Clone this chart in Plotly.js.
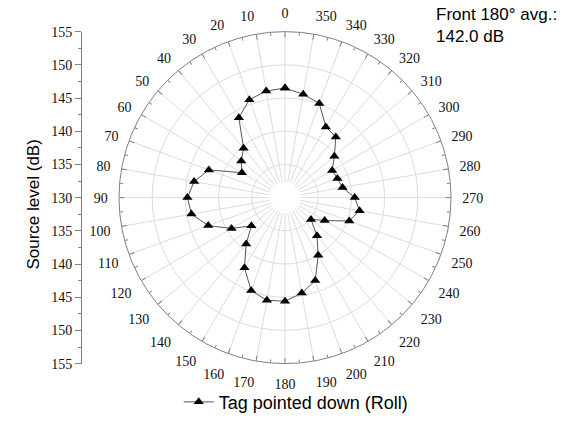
<!DOCTYPE html>
<html>
<head>
<meta charset="utf-8">
<script src="https://cdn.plot.ly/plotly-3.0.1.min.js"></script>
<style>html,body{margin:0;padding:0;background:#fff;}#chart{width:561px;height:421px;}</style>
</head>
<body>
<div id="chart"></div>
<script>
// Angles (degrees) and source levels (dB)
const angles = [0,10,20,30,40,50,60,70,80,90,100,110,120,130,140,150,160,170,
                180,190,200,210,220,230,240,250,260,270,280,290,300,310,320,330,340,350];
const levels = [146.5,146.3,145.7,143.9,139.7,138.6,137.5,142.2,143.9,144.7,144.3,142.3,139.3,136.6,139.1,142.2,144.9,145.7,
                145.6,144.6,143.3,140.0,137.5,135.1,136.9,140.3,141.4,140.5,138.8,138.4,138.2,139.7,141.9,142.3,145.1,145.8];
const radialTicks = [135,140,145,150,155];
const leftTickVals = [-25,-20,-15,-10,-5,0,5,10,15,20,25];
const leftTickText = leftTickVals.map(v => String(130 + Math.abs(v)));
const seriesName = 'Tag pointed down (Roll)';
const noteText = 'Front 180° avg.:<br>142.0 dB';
const yTitle = 'Source level (dB)';

const majorAngles = [];
for (let a = 0; a < 360; a += 10) majorAngles.push(a);
const minorAngles = [];
for (let a = 5; a < 360; a += 10) minorAngles.push(a);

const W = 561, H = 421, cx = 285, cy = 200, R = 168;
const dom = {x: [(cx - R) / W, (cx + R) / W], y: [(H - cy - R) / H, (H - cy + R) / H]};

const serif = 'Liberation Serif, Times New Roman, serif';
const sans = 'Liberation Sans, Arial, sans-serif';

const data = [
  {
    type: 'scatterpolar',
    r: levels.concat([levels[0]]),
    theta: angles.concat([angles[0]]),
    mode: 'lines+markers',
    name: seriesName,
    line: {color: '#555555', width: 1},
    marker: {symbol: 'triangle-up', size: 9, color: '#000000'},
    subplot: 'polar'
  },
  {type: 'scatterpolar', r: [null], theta: [null], subplot: 'polar2', showlegend: false, hoverinfo: 'skip'},
  {type: 'scatterpolar', r: [null], theta: [null], subplot: 'polar3', showlegend: false, hoverinfo: 'skip'},
  {type: 'scatter', x: [null], y: [null], xaxis: 'x', yaxis: 'y', showlegend: false, hoverinfo: 'skip'}
];

const layout = {
  width: W, height: H,
  margin: {l: 0, r: 0, t: 0, b: 0},
  paper_bgcolor: '#ffffff',
  plot_bgcolor: 'rgba(0,0,0,0)',
  showlegend: true,
  legend: {
    orientation: 'h', x: 0.528, xanchor: 'center', y: (H - 407) / H, yanchor: 'middle',
    font: {family: sans, size: 18, color: '#000'}, bgcolor: 'rgba(0,0,0,0)'
  },
  polar: {
    domain: dom,
    bgcolor: 'rgba(0,0,0,0)',
    angularaxis: {
      rotation: 90, direction: 'counterclockwise',
      tickmode: 'array', tickvals: majorAngles,
      ticks: 'inside', ticklen: 5, tickcolor: '#808080',
      showticklabels: false,
      showline: true, linecolor: '#808080', linewidth: 1,
      showgrid: true, gridcolor: '#dcdcdc', gridwidth: 1
    },
    radialaxis: {
      range: [130, 155],
      tickmode: 'array', tickvals: radialTicks,
      showticklabels: false, ticks: '', showline: false,
      showgrid: true, gridcolor: '#dcdcdc', gridwidth: 1
    }
  },
  polar2: {
    domain: dom,
    bgcolor: 'rgba(0,0,0,0)',
    angularaxis: {
      rotation: 90, direction: 'counterclockwise',
      tickmode: 'array', tickvals: minorAngles,
      ticks: 'inside', ticklen: 3, tickcolor: '#808080',
      showticklabels: false, showline: false, showgrid: false
    },
    radialaxis: {visible: false, range: [130, 155]}
  },
  polar3: {
    domain: dom,
    bgcolor: 'rgba(0,0,0,0)',
    angularaxis: {
      rotation: 90, direction: 'counterclockwise',
      tickmode: 'array', tickvals: majorAngles, ticktext: majorAngles.map(String),
      ticks: 'outside', ticklen: 8, tickcolor: 'rgba(0,0,0,0)',
      showticklabels: true, showline: false, showgrid: false,
      tickfont: {family: serif, size: 14, color: '#111'}
    },
    radialaxis: {visible: false, range: [130, 155]}
  },
  xaxis: {visible: false, domain: [0.2, 0.8], range: [0, 1]},
  yaxis: {
    domain: dom.y, range: [-25, 25], anchor: 'free', position: 81 / W,
    tickmode: 'array', tickvals: leftTickVals, ticktext: leftTickText,
    ticks: 'outside', ticklen: 6, tickcolor: '#808080',
    minor: {dtick: 2.5, tick0: 0, ticks: 'outside', ticklen: 3, tickcolor: '#808080'},
    showline: true, linecolor: '#808080', linewidth: 1,
    showgrid: false, zeroline: false,
    tickfont: {family: serif, size: 14, color: '#111'}
  },
  shapes: [
    {type: 'circle', xref: 'paper', yref: 'paper', layer: 'above',
     x0: (cx - 16) / W, x1: (cx + 16) / W, y0: (H - cy - 16) / H, y1: (H - cy + 16) / H,
     fillcolor: '#ffffff', line: {width: 0}}
  ],
  annotations: [
    {text: noteText, xref: 'paper', yref: 'paper', x: 434 / W, y: 1 - 3 / H,
     xanchor: 'left', yanchor: 'top', align: 'left', showarrow: false,
     font: {family: sans, size: 17, color: '#000'}},
    {text: yTitle, xref: 'paper', yref: 'paper', x: 34 / W, y: (H - 207) / H,
     xanchor: 'center', yanchor: 'middle', textangle: -90, showarrow: false,
     font: {family: sans, size: 17, color: '#000'}}
  ]
};

Plotly.newPlot('chart', data, layout, {displayModeBar: false, staticPlot: true});
</script>
</body>
</html>
